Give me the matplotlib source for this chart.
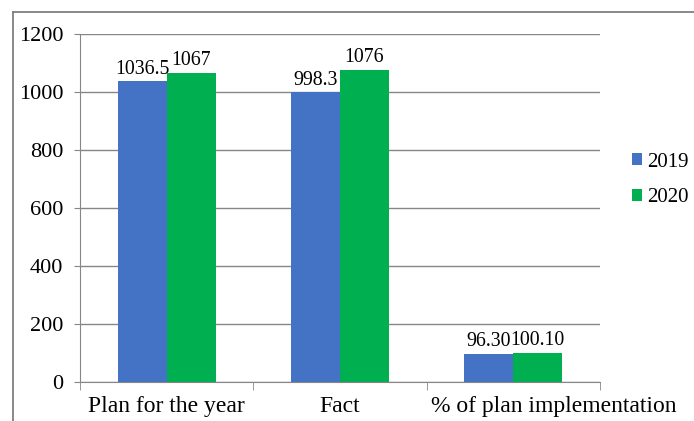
import numpy as np
import matplotlib.pyplot as plt
import matplotlib.transforms as mtransforms
from matplotlib.lines import Line2D

# data
categories = ["Plan for the year", "Fact", "% of plan implementation"]
values_2019 = [1036.5, 998.3, 96.30]
values_2020 = [1067, 1076, 100.10]
labels_2019 = ["1036.5", "998.3", "96.30"]
labels_2020 = ["1067", "1076", "100.10"]
yticks = [0, 200, 400, 600, 800, 1000, 1200]

plt.rcParams['font.family'] = ['Liberation Serif', 'DejaVu Serif']

fig = plt.figure(figsize=(6.94, 4.21), dpi=100)
ax = fig.add_axes([80 / 694, 1 - 382 / 421, 520 / 694, 348 / 421])

x = np.arange(len(categories))
w = 0.283
b1 = ax.bar(x - w / 2, values_2019, w, color="#4472C4", label="2019", zorder=3)
b2 = ax.bar(x + w / 2, values_2020, w, color="#00B050", label="2020", zorder=3)

for bars, labs in ((b1, labels_2019), (b2, labels_2020)):
    for bar, lab in zip(bars, labs):
        ax.annotate(lab, (bar.get_x() + bar.get_width() / 2, bar.get_height()),
                    xytext=(0, 2), textcoords="offset points",
                    ha="center", va="bottom", fontsize=14.3)

ax.set_xlim(-0.5, len(categories) - 0.5)
ax.set_ylim(0, 1200)
ax.set_yticks(yticks)
ax.tick_params(axis="y", labelsize=16, length=4, color="#868686", pad=8)
ax.set_xticks(x)
ax.set_xticklabels(categories, fontsize=17)
ax.tick_params(axis="x", length=0, pad=10)
# category boundary ticks
ax.set_xticks(np.arange(-0.5, len(categories), 1), minor=True)
ax.tick_params(axis="x", which="minor", length=6, color="#868686")

# last category label sits further right in the original
last = ax.get_xticklabels()[-1]
last.set_transform(last.get_transform() +
                   mtransforms.ScaledTranslation(40 / 100, 0, fig.dpi_scale_trans))

ax.grid(axis="y", color="#868686", linewidth=1, zorder=0)
for s in ("top", "right"):
    ax.spines[s].set_visible(False)
for s in ("left", "bottom"):
    ax.spines[s].set_color("#868686")
    ax.spines[s].set_zorder(4)

fig.legend(handles=[b1, b2], loc="center left",
           bbox_to_anchor=(632 / 694, 1 - 180 / 421), frameon=False,
           fontsize=15, handlelength=0.5, handleheight=0.5, handletextpad=0.25,
           labelspacing=0.8, borderaxespad=0, borderpad=0)

# outer chart border (top and left edges visible)
fig.add_artist(Line2D([13 / 694, 1], [1 - 12 / 421] * 2, color="#7f7f7f", lw=1.3))
fig.add_artist(Line2D([13 / 694] * 2, [0, 1 - 12 / 421], color="#7f7f7f", lw=1.3))

fig.savefig("out.png", dpi=100)
